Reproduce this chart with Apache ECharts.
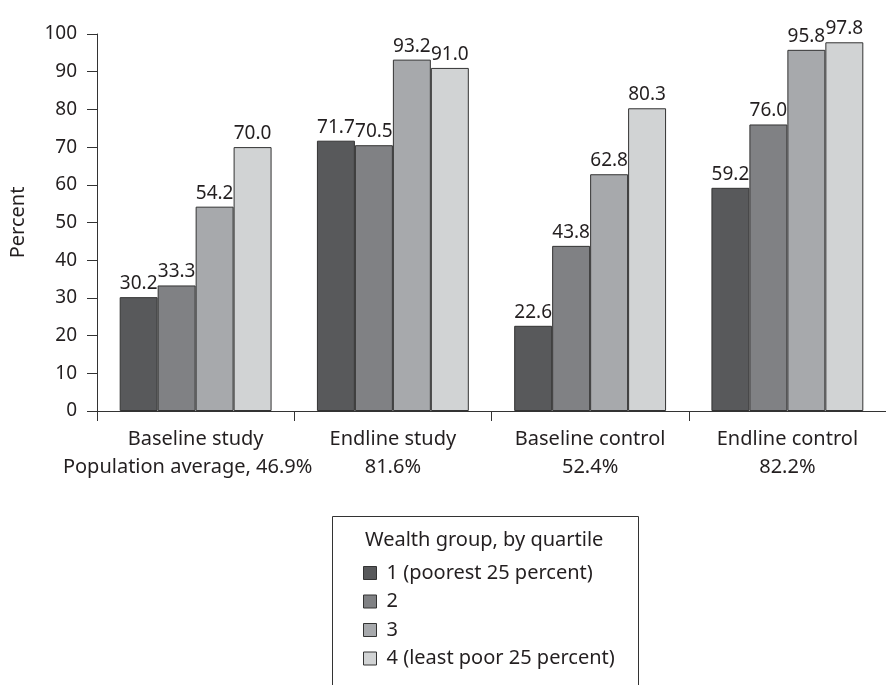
<!DOCTYPE html>
<html>
<head>
<meta charset="utf-8">
<script src="https://cdn.jsdelivr.net/npm/echarts@6/dist/echarts.min.js"></script>
<style>
  html, body { margin: 0; padding: 0; background: #fff; }
  #chart { width: 886px; height: 685px; }
</style>
</head>
<body>
<div id="chart"></div>
<script>
// Survey groups along the x axis, with the population average under each
const categories = ['Baseline study', 'Endline study', 'Baseline control', 'Endline control'];
const averages = ['Population average, 46.9%', '81.6%', '52.4%', '82.2%'];

// Wealth quartile series (percent)
const quartileNames = ['1 (poorest 25 percent)', '2', '3', '4 (least poor 25 percent)'];
const q1 = [30.2, 71.7, 22.6, 59.2];
const q2 = [33.3, 70.5, 43.8, 76.0];
const q3 = [54.2, 93.2, 62.8, 95.8];
const q4 = [70.0, 91.0, 80.3, 97.8];

const yTicks = [0, 10, 20, 30, 40, 50, 60, 70, 80, 90, 100];

const fills = ['#58595b', '#808184', '#a7a9ac', '#d1d3d4'];
const ink = '#231f20';
const font = 'Noto Sans';
const wordSize = 20;
const numSize = 19;

const chart = echarts.init(document.getElementById('chart'), null, { renderer: 'canvas' });

const seriesData = [q1, q2, q3, q4];
const series = seriesData.map((vals, i) => ({
  name: quartileNames[i],
  type: 'bar',
  data: vals,
  barGap: '0%',
  barCategoryGap: '23%',
  itemStyle: { color: fills[i], borderColor: '#333', borderWidth: 1 },
  label: {
    show: true,
    position: 'top',
    distance: 4,
    color: ink,
    fontFamily: font,
    fontSize: numSize,
    formatter: p => p.value.toFixed(1)
  }
}));

chart.setOption({
  animation: false,
  backgroundColor: '#fff',
  grid: { left: 97, top: 34, width: 800, bottom: 274, containLabel: false },
  xAxis: {
    type: 'category',
    data: categories,
    axisLine: { show: true, lineStyle: { color: '#333', width: 1 } },
    axisTick: { show: true, length: 10, lineStyle: { color: '#333' } },
    axisLabel: {
      interval: 0,
      margin: 14,
      color: ink,
      fontFamily: font,
      fontSize: wordSize,
      lineHeight: 28,
      formatter: (v, idx) => idx === 0
        ? '{n|' + v + '}\n{shift|' + averages[idx] + '}'
        : '{n|' + v + '}\n{n|' + averages[idx] + '}',
      rich: {
        n: { color: ink, fontFamily: font, fontSize: wordSize, lineHeight: 28 },
        shift: { color: ink, fontFamily: font, fontSize: wordSize, lineHeight: 28, padding: [0, 16, 0, 0] }
      }
    }
  },
  yAxis: {
    type: 'value',
    min: yTicks[0],
    max: yTicks[yTicks.length - 1],
    interval: 10,
    name: 'Percent',
    nameLocation: 'middle',
    nameGap: 69,
    nameTextStyle: { color: ink, fontFamily: font, fontSize: wordSize },
    axisLine: { show: true, lineStyle: { color: '#333', width: 1 } },
    axisTick: { show: true, length: 10, lineStyle: { color: '#333' } },
    splitLine: { show: false },
    axisLabel: { margin: 20, color: ink, fontFamily: font, fontSize: numSize }
  },
  legend: {
    orient: 'vertical',
    left: 363,
    top: 563,
    padding: 0,
    icon: 'rect',
    itemWidth: 13,
    itemHeight: 13,
    itemGap: 8.5,
    data: quartileNames,
    itemStyle: { borderColor: '#333', borderWidth: 1 },
    textStyle: { color: ink, fontFamily: font, fontSize: wordSize, lineHeight: 20, padding: [0, 0, 0, 5] },
    selectedMode: false
  },
  graphic: [
    {
      type: 'rect',
      shape: { x: 332.5, y: 516.5, width: 306, height: 200 },
      style: { fill: 'none', stroke: '#333', lineWidth: 1 },
      silent: true
    },
    {
      type: 'text',
      left: 365,
      top: 530,
      style: { text: 'Wealth group, by quartile', fill: ink, font: wordSize + 'px "Noto Sans"' },
      silent: true
    }
  ],
  series: series
});
</script>
</body>
</html>
